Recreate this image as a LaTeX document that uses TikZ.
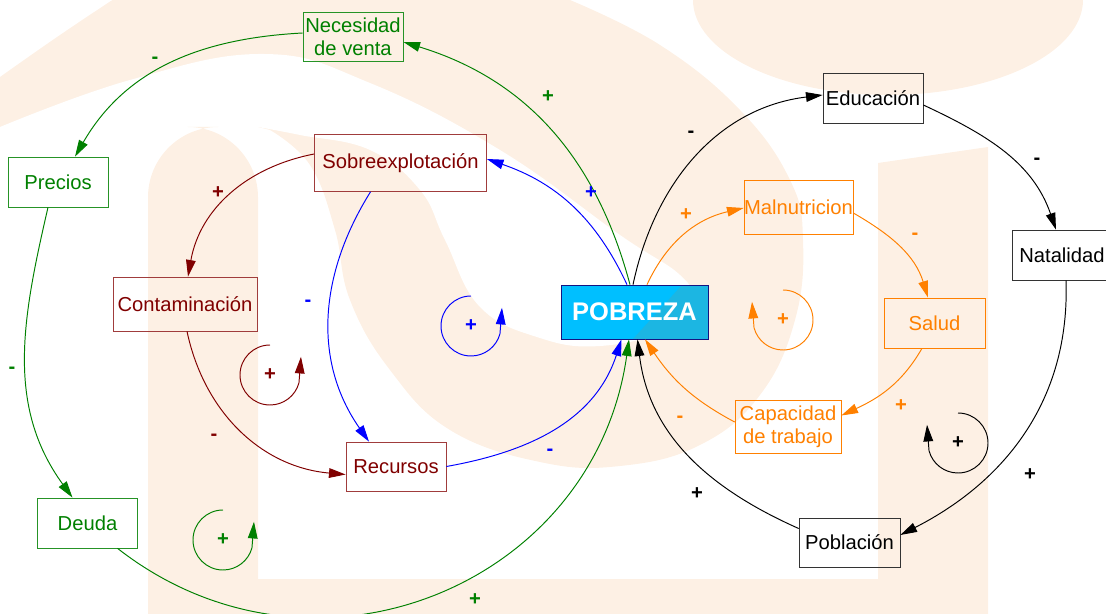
\documentclass[tikz,border=0pt]{standalone}
\usepackage{fontspec}
\setmainfont{Liberation Sans}
\usetikzlibrary{arrows.meta,calc}

\definecolor{cgreen}{RGB}{0,128,0}
\definecolor{cred}{RGB}{128,0,0}
\definecolor{credbox}{RGB}{160,60,60}
\definecolor{cblue}{RGB}{0,0,255}
\definecolor{corange}{RGB}{255,128,0}
\definecolor{cpob}{RGB}{0,191,255}
\definecolor{cpobb}{RGB}{28,182,226}
\definecolor{cpobline}{RGB}{20,20,130}
\definecolor{cmark}{RGB}{253,240,228}

\tikzset{
  var/.style={draw, inner sep=0pt, align=center, font=\fontsize{11.5}{13}\selectfont},
  gvar/.style={var, draw=cgreen!85, text=cgreen},
  rvar/.style={var, draw=credbox, text=cred},
  ovar/.style={var, draw=corange, text=corange},
  kvar/.style={var, draw=black!80, text=black},
  link/.style={line width=0.55pt, -{Triangle[length=9.5pt,width=5.5pt]}},
  sign/.style={inner sep=0pt, font=\fontsize{11.5}{12}\selectfont\bfseries},
}

\begin{document}
\begin{tikzpicture}[x=0.02cm,y=0.02cm]
\useasboundingbox (0,0) rectangle (1106,-614);
% marca de agua
\begin{scope}
	\clip (0,0) rectangle (1106,-614);
	\fill[cmark] plot[smooth, tension=0.7] coordinates {(0,-77) (60,-35) (120,5)} -- (120,10) -- (570,10)
		-- plot[smooth, tension=0.7] coordinates {(570,0) (660,-45) (740,-110) (790,-180) (803,-240) (795,-320)
		(760,-395) (700,-445) (620,-466) (540,-462) (450,-430) (390,-370) (350,-300) (335,-230) (310,-165) (270,-130)}
		-- (258,-127) -- (0,-127) -- cycle;
	\fill[white] plot[smooth, tension=0.7] coordinates {(0,-127) (130,-80) (264,-54) (370,-83) (500,-150) (620,-235)
		(680,-275) (690,-300) (665,-330) (600,-346) (540,-338) (480,-307) (445,-240) (420,-190) (370,-150) (300,-135) (258,-127)} -- cycle;
	\fill[cmark, rounded corners=40] (148,-700) -- (148,-127) -- (258,-127) -- (258,-700) -- cycle;
	\fill[cmark] (148,-579) rectangle (988,-614);
	\fill[cmark] (878,-163) -- (988,-147) -- (988,-614) -- (878,-614) -- cycle;
	\fill[cmark] (888,0) ellipse[x radius=195, y radius=95];
\end{scope}

% variables
\node[gvar, minimum width=2cm, minimum height=0.98cm] (nec) at (353,-36.5) {Necesidad\\de venta};
\node[gvar, minimum width=2cm, minimum height=1cm] (pre) at (58,-182) {Precios};
\node[gvar, minimum width=2cm, minimum height=1cm] (deu) at (87.5,-523) {Deuda};
\node[rvar, minimum width=3.44cm, minimum height=1.14cm] (sob) at (400.5,-163) {Sobreexplotación};
\node[rvar, minimum width=2.88cm, minimum height=1.08cm] (con) at (185,-304) {Contaminación};
\node[rvar, minimum width=2cm, minimum height=0.98cm] (rec) at (396,-466.5) {Recursos};
\node[draw=cpobline, fill=cpob, text=white, inner sep=0pt, minimum width=2.94cm, minimum height=1.08cm,
	font=\fontsize{14.5}{16}\selectfont\bfseries,
	path picture={\fill[cpobb] ($(path picture bounding box.north east)+(-26,0)$) -- (path picture bounding box.north east)
		-- (path picture bounding box.south east) -- ($(path picture bounding box.south west)+(72,0)$) -- cycle;}] (POB) at (634.5,-312) {POBREZA};
\node[kvar, minimum width=2cm, minimum height=1cm] (edu) at (873,-98) {Educación};
\node[kvar, minimum width=2cm, minimum height=1cm] (nat) at (1062,-255) {Natalidad};
\node[kvar, minimum width=2.02cm, minimum height=0.98cm] (pob) at (849.5,-542.5) {Población};
\node[ovar, minimum width=2.18cm, minimum height=1.08cm] (mal) at (798.5,-207) {Malnutricion};
\node[ovar, minimum width=2.02cm, minimum height=1cm] (sal) at (934.5,-323) {Salud};
\node[ovar, minimum width=2.12cm, minimum height=1.06cm] (cap) at (788,-426.5) {Capacidad\\de trabajo};

% lazo verde
\draw[link, cgreen] ($(POB.north)+(-4.5,0)$) to[out=105,in=-17] ($(nec.east)+(0,-5.5)$);
\draw[link, cgreen] ($(nec.west)+(0,3.5)$) to[out=183,in=60] ($(pre.north)+(17,0)$);
\draw[link, cgreen] ($(pre.south)+(-10,0)$) to[out=257,in=126] ($(deu.north)+(-15,0)$);
\draw[link, cgreen] ($(deu.south)+(30,0)$) to[out=-38,in=-98,looseness=1.15] ($(POB.south)+(-5.5,0)$);
% lazo rojo
\draw[link, cred] ($(sob.west)+(0,9)$) to[out=191,in=80] ($(con.north)+(3,0)$);
\draw[link, cred] ($(con.south)+(2,0)$) to[out=-78,in=175] ($(rec.west)+(0,-8)$);
% lazo azul
\draw[link, cblue] ($(POB.north)+(-7.5,0)$) to[out=115,in=-19] ($(sob.east)+(0,4)$);
\draw[link, cblue] ($(sob.south)+(-30,0)$) to[out=238,in=125] ($(rec.north)+(-27,0)$);
\draw[link, cblue] (rec.east) to[out=10,in=-108] ($(POB.south)+(-13,0)$);
% lazo negro
\draw[link] ($(POB.north)+(-1.5,0)$) to[out=78,in=-173] ($(edu.west)+(0,3)$);
\draw[link] ($(edu.east)+(0,-7)$) to[out=-25,in=109] ($(nat.north)+(-6,0)$);
\draw[link] ($(nat.south)+(4,0)$) to[out=-88,in=27] ($(pob.east)+(0,7.5)$);
\draw[link] ($(pob.west)+(0,14)$) to[out=156,in=-83] ($(POB.south)+(3,0)$);
% lazo naranja
\draw[link, corange] ($(POB.north)+(12.5,0)$) to[out=65,in=-167] ($(mal.west)+(0,-1)$);
\draw[link, corange] ($(mal.east)+(0,-6)$) to[out=-30,in=107] ($(sal.north)+(-6.5,0)$);
\draw[link, corange] ($(sal.south)+(-12.5,0)$) to[out=240,in=25] ($(cap.east)+(0,11)$);
\draw[link, corange] ($(cap.west)+(0,4.5)$) to[out=152,in=-56] ($(POB.south)+(10.5,0)$);

% polaridades
\node[sign, cgreen] (sg1) at (548,-97) {+};
\node[sign, cgreen] (sg2) at (155,-60) {-};
\node[sign, cgreen] (sg3) at (12,-370) {-};
\node[sign, cgreen] (sg4) at (475,-600) {+};
\node[sign, cred] (sr1) at (218,-193) {+};
\node[sign, cred] (sr2) at (214,-437) {-};
\node[sign, cblue] (sb1) at (591,-193) {+};
\node[sign, cblue] (sb2) at (308,-303) {-};
\node[sign, cblue] (sb3) at (550,-452) {-};
\node[sign] (sk1) at (691,-134) {-};
\node[sign] (sk2) at (1037,-161) {-};
\node[sign] (sk3) at (1030,-475) {+};
\node[sign] (sk4) at (697,-494) {+};
\node[sign, corange] (so1) at (686,-215) {+};
\node[sign, corange] (so2) at (915,-236) {-};
\node[sign, corange] (so3) at (901,-406) {+};
\node[sign, corange] (so4) at (680,-419) {-};

% indicadores de lazo
\node[sign, cgreen] (lG) at (223,-540) {+};
\node[sign, cred] (lR) at (270,-375) {+};
\node[sign, cblue] (lB) at (471,-326) {+};
\node[sign, corange] (lO) at (783,-320) {+};
\node[sign] (lK) at (958,-443) {+};
\draw[link, cgreen] ($(lG)+(0,30)$) arc[start angle=90, end angle=345, radius=30] -- ++(2,26);
\draw[link, cred] ($(lR)+(0,30)$) arc[start angle=90, end angle=345, radius=30] -- ++(2,26);
\draw[link, cblue] ($(lB)+(0,30)$) arc[start angle=90, end angle=345, radius=30] -- ++(2,26);
\draw[link, corange] ($(lO)+(0,30)$) arc[start angle=90, end angle=-165, radius=30] -- ++(-2,26);
\draw[link] ($(lK)+(0,30)$) arc[start angle=90, end angle=-165, radius=30] -- ++(-2,26);
\end{tikzpicture}
\end{document}
